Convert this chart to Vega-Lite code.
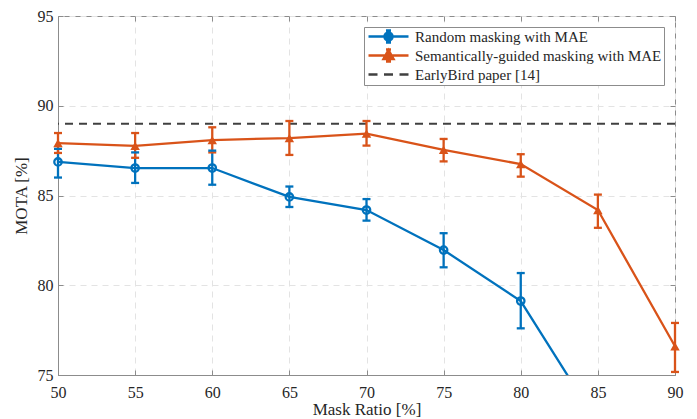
{
  "$schema": "https://vega.github.io/schema/vega-lite/v6.json",
  "width": 617,
  "height": 359,
  "autosize": "none",
  "padding": {"left": 58, "top": 16, "right": 22, "bottom": 44},
  "background": "white",
  "config": {
    "view": {"stroke": "#8c8c8c", "strokeWidth": 1},
    "font": "Liberation Serif",
    "axis": {
      "labelFont": "Liberation Serif",
      "titleFont": "Liberation Serif",
      "labelFontSize": 16,
      "titleFontSize": 17,
      "titleFontWeight": "normal",
      "labelColor": "#262626",
      "titleColor": "#262626",
      "domainColor": "#8c8c8c",
      "tickColor": "#8c8c8c",
      "gridColor": "#e3e3e3",
      "gridDash": [6, 5],
      "tickSize": -5,
      "labelFlush": false
    },
    "legend": {
      "labelFont": "Liberation Serif",
      "labelFontSize": 15,
      "labelColor": "#262626"
    }
  },
  "resolve": {"axis": {"x": "independent", "y": "independent"}},
  "datasets": {
    "pts": [
      {"series": "Random masking with MAE", "ratio": 50, "mota": 86.87, "lo": 86.0, "hi": 87.6},
      {"series": "Random masking with MAE", "ratio": 55, "mota": 86.53, "lo": 85.7, "hi": 87.4},
      {"series": "Random masking with MAE", "ratio": 60, "mota": 86.53, "lo": 85.6, "hi": 87.5},
      {"series": "Random masking with MAE", "ratio": 65, "mota": 84.92, "lo": 84.36, "hi": 85.5},
      {"series": "Random masking with MAE", "ratio": 70, "mota": 84.19, "lo": 83.6, "hi": 84.8},
      {"series": "Random masking with MAE", "ratio": 75, "mota": 81.96, "lo": 81.0, "hi": 82.9},
      {"series": "Random masking with MAE", "ratio": 80, "mota": 79.12, "lo": 77.6, "hi": 80.68},
      {"series": "Random masking with MAE", "ratio": 85, "mota": 72.3, "lo": null, "hi": null},
      {"series": "Semantically-guided masking with MAE", "ratio": 50, "mota": 87.92, "lo": 87.37, "hi": 88.48},
      {"series": "Semantically-guided masking with MAE", "ratio": 55, "mota": 87.76, "lo": 87.1, "hi": 88.48},
      {"series": "Semantically-guided masking with MAE", "ratio": 60, "mota": 88.09, "lo": 87.4, "hi": 88.8},
      {"series": "Semantically-guided masking with MAE", "ratio": 65, "mota": 88.2, "lo": 87.26, "hi": 89.15},
      {"series": "Semantically-guided masking with MAE", "ratio": 70, "mota": 88.45, "lo": 87.78, "hi": 89.15},
      {"series": "Semantically-guided masking with MAE", "ratio": 75, "mota": 87.54, "lo": 86.9, "hi": 88.15},
      {"series": "Semantically-guided masking with MAE", "ratio": 80, "mota": 86.75, "lo": 86.05, "hi": 87.3},
      {"series": "Semantically-guided masking with MAE", "ratio": 85, "mota": 84.19, "lo": 83.2, "hi": 85.05},
      {"series": "Semantically-guided masking with MAE", "ratio": 90, "mota": 76.6, "lo": 75.17, "hi": 77.9}
    ],
    "ref": [
      {"series": "EarlyBird paper [14]", "mota": 89.0}
    ]
  },
  "layer": [
    {
      "data": {"name": "ref"},
      "mark": {"type": "rule", "strokeDash": [8, 6], "strokeWidth": 2},
      "encoding": {
        "y": {"field": "mota", "type": "quantitative", "scale": {"domain": [75, 95]}, "axis": null},
        "color": {
          "field": "series",
          "type": "nominal",
          "scale": {
            "domain": ["Random masking with MAE", "Semantically-guided masking with MAE", "EarlyBird paper [14]"],
            "range": ["#0072BD", "#D95319", "#404040"]
          },
          "legend": {
            "title": null,
            "orient": "top-right",
            "offset": 11,
            "padding": 2,
            "strokeColor": "#8c8c8c",
            "fillColor": "white",
            "cornerRadius": 0,
            "symbolSize": 100,
            "symbolStrokeWidth": 2.5,
            "rowPadding": -7,
            "labelOffset": 34,
            "labelLimit": 500,
            "labelFont": "Liberation Serif",
            "labelFontSize": 15,
            "encode": {
              "symbols": {
                "update": {
                  "shape": {"signal": "datum.value === 'Random masking with MAE' ? 'M-1,0H7M3.8,0A0.8,0.8 0 1,1 2.2,0A0.8,0.8 0 1,1 3.8,0M3,-1.2V1.2M2.5,-1.2H3.5M2.5,1.2H3.5' : datum.value === 'Semantically-guided masking with MAE' ? 'M-1,0H7M3,-1.1L4,0.7L2,0.7ZM3,-1.2V1.2M2.5,-1.2H3.5M2.5,1.2H3.5' : 'M-1,0H0.8M2.1,0H3.9M5.2,0H7'"},
                  "fill": {"signal": "datum.value === 'Semantically-guided masking with MAE' ? '#D95319' : 'transparent'"},
                  "strokeWidth": {"value": 2.5},
                  "strokeDash": {"value": []},
                  "opacity": {"value": 1}
                }
              }
            }
          }
        }
      }
    },
    {
      "data": {"name": "pts"},
      "mark": {"type": "line", "strokeWidth": 2.3, "clip": true},
      "encoding": {
        "x": {
          "field": "ratio", "type": "quantitative",
          "scale": {"domain": [50, 90], "nice": false},
          "axis": {"values": [50, 55, 60, 65, 70, 75, 80, 85, 90], "title": "Mask Ratio [%]", "labelFont": "Liberation Serif", "titleFont": "Liberation Serif", "labelPadding": 14, "titlePadding": 1, "grid": true, "labelFlush": false}
        },
        "y": {
          "field": "mota", "type": "quantitative",
          "scale": {"domain": [75, 95], "nice": false},
          "axis": {"values": [75, 80, 85, 90, 95], "title": "MOTA [%]", "labelFont": "Liberation Serif", "titleFont": "Liberation Serif", "labelPadding": 10, "titlePadding": 7, "grid": true, "labelFlush": false}
        },
        "color": {"field": "series", "type": "nominal"}
      }
    },
    {
      "data": {"name": "pts"},
      "transform": [{"filter": "datum.lo != null"}],
      "mark": {"type": "rule", "strokeWidth": 2.3},
      "encoding": {
        "x": {"field": "ratio", "type": "quantitative", "axis": null},
        "y": {"field": "lo", "type": "quantitative", "axis": null},
        "y2": {"field": "hi"},
        "color": {"field": "series", "type": "nominal"}
      }
    },
    {
      "data": {"name": "pts"},
      "transform": [{"filter": "datum.lo != null"}],
      "mark": {"type": "tick", "orient": "horizontal", "size": 8, "thickness": 2.3, "opacity": 1},
      "encoding": {
        "x": {"field": "ratio", "type": "quantitative", "axis": null},
        "y": {"field": "lo", "type": "quantitative", "axis": null},
        "color": {"field": "series", "type": "nominal"}
      }
    },
    {
      "data": {"name": "pts"},
      "transform": [{"filter": "datum.lo != null"}],
      "mark": {"type": "tick", "orient": "horizontal", "size": 8, "thickness": 2.3, "opacity": 1},
      "encoding": {
        "x": {"field": "ratio", "type": "quantitative", "axis": null},
        "y": {"field": "hi", "type": "quantitative", "axis": null},
        "color": {"field": "series", "type": "nominal"}
      }
    },
    {
      "data": {"name": "pts"},
      "transform": [{"filter": "datum.series === 'Random masking with MAE' && datum.lo != null"}],
      "mark": {"type": "point", "shape": "circle", "filled": false, "size": 55, "strokeWidth": 2.3, "opacity": 1},
      "encoding": {
        "x": {"field": "ratio", "type": "quantitative", "axis": null},
        "y": {"field": "mota", "type": "quantitative", "axis": null},
        "color": {"field": "series", "type": "nominal"}
      }
    },
    {
      "data": {"name": "pts"},
      "transform": [{"filter": "datum.series === 'Semantically-guided masking with MAE'"}],
      "mark": {"type": "point", "shape": "triangle-up", "filled": true, "size": 90, "opacity": 1},
      "encoding": {
        "x": {"field": "ratio", "type": "quantitative", "axis": {"orient": "top", "values": [50, 55, 60, 65, 70, 75, 80, 85, 90], "labels": false, "domain": false, "grid": false, "title": null, "tickSize": -5}},
        "y": {"field": "mota", "type": "quantitative", "axis": {"orient": "right", "values": [75, 80, 85, 90, 95], "labels": false, "domain": false, "grid": false, "title": null, "tickSize": -5}},
        "color": {"field": "series", "type": "nominal"}
      }
    }
  ]
}
